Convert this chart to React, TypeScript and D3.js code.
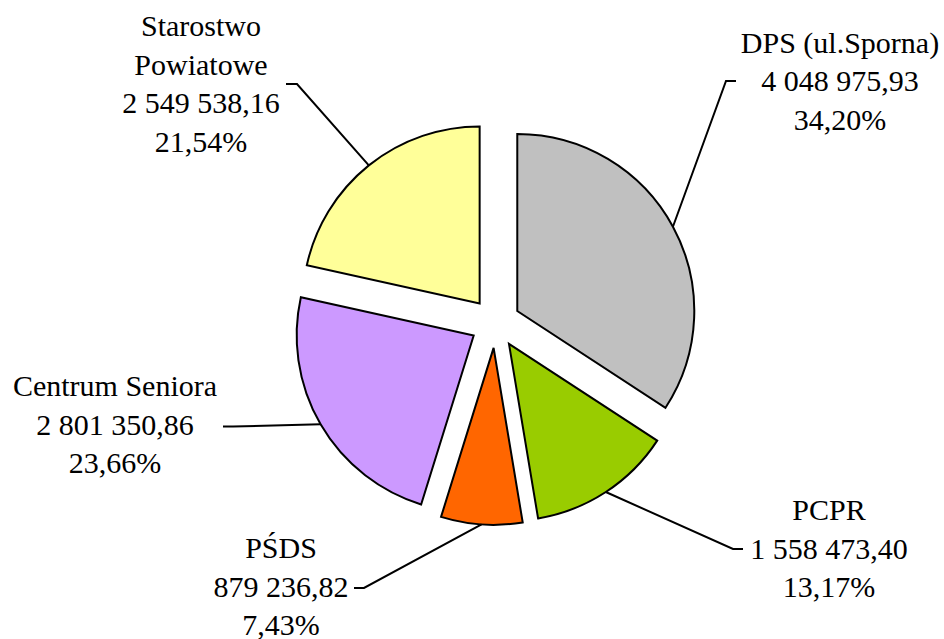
import React from "react";
import * as d3 from "d3";

const categories = ["DPS (ul.Sporna)", "PCPR", "PŚDS", "Centrum Seniora", "Starostwo Powiatowe"];
const values = [4048975.93, 1558473.4, 879236.82, 2801350.86, 2549538.16];
const colors = ["#C0C0C0", "#99CC00", "#FF6600", "#CC99FF", "#FFFF99"];
// label title lines (category name may wrap)
const titleLines = [["DPS (ul.Sporna)"], ["PCPR"], ["PŚDS"], ["Centrum Seniora"], ["Starostwo", "Powiatowe"]];

// layout: label text centre x, first baseline y, leader elbow and end point
const labelLayout = [
  { cx: 840, y0: 52.5, elbow: [726, 81], end: [736, 81] },
  { cx: 829, y0: 520, elbow: [733, 549], end: [743, 549] },
  { cx: 281, y0: 558, elbow: [364, 588], end: [354, 588] },
  { cx: 115, y0: 396, elbow: [233, 426.5], end: [223, 426.5] },
  { cx: 201, y0: 36, elbow: [297, 84], end: [286, 84] },
];

const W = 944;
const H = 639;
const CX = 495.3;
const CY = 322.9;
const R = 177;
const EXPLODE = 25;
const LINE_H = 38.5;
const FONT = '"Liberation Serif"';

const locale = d3.formatLocale({ decimal: ",", thousands: " ", grouping: [3], currency: ["", ""] });
const fmtVal = locale.format(",.2f");
const fmtPct = locale.format(".2f");

export default function App() {
  const total = d3.sum(values);
  const pie = d3
    .pie<number>()
    .sort(null)
    .value((d) => d)
    .startAngle(0)
    .endAngle(2 * Math.PI);
  const arcs = pie(values);
  const arcGen = d3.arc<d3.PieArcDatum<number>>().innerRadius(0).outerRadius(R);

  return (
    <svg
      width={W}
      height={H}
      style={{ position: "absolute", left: 0, top: 0, background: "#fff" }}
    >
      {arcs.map((a, i) => {
        const mid = (a.startAngle + a.endAngle) / 2;
        const dx = Math.sin(mid) * EXPLODE;
        const dy = -Math.cos(mid) * EXPLODE;
        const ox = CX + dx;
        const oy = CY + dy;
        const px = ox + Math.sin(mid) * R;
        const py = oy - Math.cos(mid) * R;
        const L = labelLayout[i];
        const lines = [
          ...titleLines[i],
          fmtVal(values[i]),
          fmtPct((values[i] / total) * 100) + "%",
        ];
        return (
          <g key={categories[i]}>
            <path
              d={arcGen(a) || ""}
              transform={`translate(${ox},${oy})`}
              fill={colors[i]}
              stroke="#000"
              strokeWidth={2}
              strokeLinejoin="miter"
            />
            <polyline
              points={`${px},${py} ${L.elbow[0]},${L.elbow[1]} ${L.end[0]},${L.end[1]}`}
              fill="none"
              stroke="#000"
              strokeWidth={2}
            />
            <text textAnchor="middle" style={{ fontFamily: FONT, fontSize: "30px" }} fill="#000">
              {lines.map((t, j) => (
                <tspan key={j} x={L.cx} y={L.y0 + j * LINE_H}>
                  {t}
                </tspan>
              ))}
            </text>
          </g>
        );
      })}
    </svg>
  );
}
